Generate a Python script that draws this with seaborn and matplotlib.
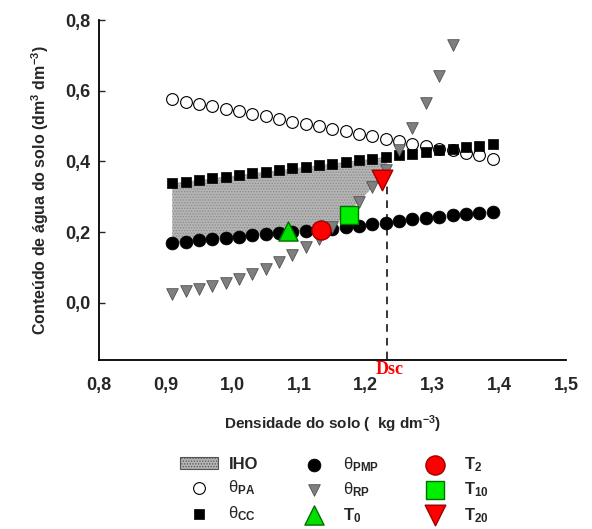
import numpy as np
import pandas as pd
import matplotlib
matplotlib.use("Agg")
import matplotlib.pyplot as plt
import seaborn as sns

# soil bulk density (kg dm-3)
densidade = [0.91, 0.93, 0.95, 0.97, 0.99, 1.01, 1.03, 1.05, 1.07, 1.09, 1.11, 1.13, 1.15,
             1.17, 1.19, 1.21, 1.23, 1.25, 1.27, 1.29, 1.31, 1.33, 1.35, 1.37, 1.39]

# water content limits (dm3 dm-3)
theta_pa = [0.576, 0.569, 0.562, 0.556, 0.548, 0.542, 0.535, 0.528, 0.520, 0.513, 0.506, 0.500, 0.492,
            0.485, 0.479, 0.471, 0.464, 0.457, 0.449, 0.443, 0.436, 0.431, 0.424, 0.417, 0.407]
theta_cc = [0.338, 0.343, 0.347, 0.352, 0.357, 0.361, 0.366, 0.371, 0.375, 0.380, 0.385, 0.389, 0.394,
            0.399, 0.403, 0.408, 0.413, 0.417, 0.422, 0.427, 0.431, 0.436, 0.441, 0.445, 0.450]
theta_pmp = [0.168, 0.173, 0.177, 0.180, 0.184, 0.187, 0.191, 0.194, 0.197, 0.200, 0.203, 0.206, 0.210,
             0.214, 0.218, 0.223, 0.227, 0.232, 0.236, 0.239, 0.243, 0.247, 0.251, 0.254, 0.258]
# resistance to penetration only plotted up to 1.33 (goes off the top afterwards)
theta_rp = [0.026, 0.032, 0.039, 0.046, 0.056, 0.067, 0.081, 0.096, 0.114, 0.134, 0.158,
            0.181, 0.213, 0.250, 0.286, 0.327, 0.375, 0.431, 0.495, 0.564, 0.643, 0.729]

# treatments
trat_nome = ["T0", "T2", "T10", "T20"]
trat_ds = [1.083, 1.133, 1.175, 1.225]
trat_theta = [0.204, 0.207, 0.248, 0.347]

dsc = 1.232

sns.set_style("white")
plt.rcParams["font.family"] = ["Liberation Sans", "DejaVu Sans"]
plt.rcParams["mathtext.fontset"] = "custom"
plt.rcParams["mathtext.rm"] = "Liberation Sans"
plt.rcParams["mathtext.bf"] = "Liberation Sans:bold"
plt.rcParams["mathtext.it"] = "Liberation Sans:italic"
plt.rcParams["hatch.linewidth"] = 0.6

df = pd.DataFrame({"ds": densidade, "pa": theta_pa, "cc": theta_cc, "pmp": theta_pmp})
df_rp = pd.DataFrame({"ds": densidade[:len(theta_rp)], "rp": theta_rp})

fig = plt.figure(figsize=(5.92, 5.29), dpi=100)
ax = fig.add_axes([0.167, 0.3195, 0.789, 0.6425])

# IHO area: between max(PMP, RP) and CC, up to Dsc
x = np.array(densidade)
n_rp = len(theta_rp)
lower = np.maximum(np.array(theta_pmp[:n_rp]), np.array(theta_rp))
m = x <= dsc
xf = np.append(x[m], dsc)
lo = np.interp(xf, x[:n_rp], lower)
hi = np.interp(xf, x, np.array(theta_cc))
ax.fill_between(xf, lo, hi, facecolor="#b4b4b4", edgecolor="#8a8a8a", hatch="......",
                linewidth=0, label="IHO", zorder=1)

ax.plot([dsc, dsc], [-0.2, lo[-1]], ls=(0, (5, 4)), color="black", lw=1.1, zorder=1.5)

lab_pa = r"$\mathrm{θ}_{\mathbf{PA}}$"
lab_cc = r"$\mathrm{θ}_{\mathbf{CC}}$"
lab_pmp = r"$\mathrm{θ}_{\mathbf{PMP}}$"
lab_rp = r"$\mathrm{θ}_{\mathbf{RP}}$"

sns.scatterplot(data=df, x="ds", y="pa", marker="o", s=72, facecolor="white",
                edgecolor="black", linewidth=0.8, label=lab_pa, ax=ax, zorder=3)
sns.scatterplot(data=df, x="ds", y="cc", marker="s", s=62, color="black",
                edgecolor="black", linewidth=0.5, label=lab_cc, ax=ax, zorder=3)
sns.scatterplot(data=df, x="ds", y="pmp", marker="o", s=86, color="black",
                edgecolor="black", linewidth=0.5, label=lab_pmp, ax=ax, zorder=3)
sns.scatterplot(data=df_rp, x="ds", y="rp", marker="v", s=70, color="#7f7f7f",
                edgecolor="#505050", linewidth=0.6, label=lab_rp, ax=ax, zorder=4)

estilos = {"T0": ("^", "#00e000", "#007000", 190),
           "T2": ("o", "#ff0000", "#a00000", 190),
           "T10": ("s", "#00ee00", "#007000", 170),
           "T20": ("v", "#ff0000", "#a00000", 220)}
for nome, xs, ys in zip(trat_nome, trat_ds, trat_theta):
    mk, fc, ec, sz = estilos[nome]
    sns.scatterplot(x=[xs], y=[ys], marker=mk, s=sz, color=fc, edgecolor=ec, linewidth=1.0,
                    label=r"$\mathbf{T_{%s}}$" % nome[1:], ax=ax, zorder=5)

ax.set_xlim(0.8, 1.5)
ax.set_ylim(-0.162, 0.8)
ax.set_xticks(np.arange(0.8, 1.51, 0.1))
ax.set_xticklabels([f"{v:.1f}".replace(".", ",") for v in np.arange(0.8, 1.51, 0.1)],
                   fontweight="bold", fontsize=13)
ax.set_xticks([0.8, 0.9, dsc, 1.4, 1.5], minor=True)
ax.set_yticks([0.0, 0.2, 0.4, 0.6, 0.8])
ax.set_yticklabels(["0,0", "0,2", "0,4", "0,6", "0,8"], fontweight="bold", fontsize=13)
ax.tick_params(axis="x", which="major", length=0, pad=12)
ax.tick_params(axis="x", which="minor", direction="in", length=4, width=1)
ax.tick_params(axis="y", direction="in", length=4, width=1, left=True, pad=6)
for s in ["top", "right"]:
    ax.spines[s].set_visible(False)
for s in ["left", "bottom"]:
    ax.spines[s].set_color("black")
    ax.spines[s].set_linewidth(1.3)

ax.set_xlabel(r"Densidade do solo (  kg dm$^{\mathbf{-3}}$)", fontweight="bold", fontsize=11, labelpad=14)
ax.set_ylabel(r"Conteúdo de água do solo (dm$^{\mathbf{3}}$ dm$^{\mathbf{-3}}$)", fontweight="bold",
              fontsize=11.5, labelpad=10)

ax.text(dsc + 0.004, -0.164, "Dsc", color="red", fontfamily="Liberation Serif", fontweight="bold",
        fontsize=13, ha="center", va="top", clip_on=False)

h, l = ax.get_legend_handles_labels()
ordem = ["IHO", lab_pa, lab_cc, lab_pmp, lab_rp, r"$\mathbf{T_{0}}$",
         r"$\mathbf{T_{2}}$", r"$\mathbf{T_{10}}$", r"$\mathbf{T_{20}}$"]
hd = dict(zip(l, h))
ax.get_legend().remove()
leg = fig.legend([hd[k] for k in ordem], ordem, loc="upper center", bbox_to_anchor=(0.565, 0.168),
                 ncol=3, frameon=False, prop={"weight": "bold", "size": 12}, columnspacing=2.2,
                 handletextpad=0.6, labelspacing=0.4, handlelength=2.3)
leg.legend_handles[0].set_edgecolor("#555555")
leg.legend_handles[0].set_linewidth(0.8)

fig.savefig("out.png", dpi=100)
